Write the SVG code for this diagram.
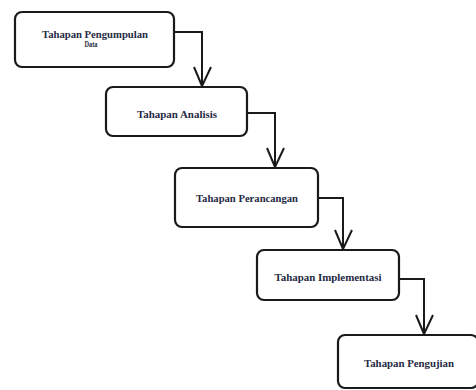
<svg xmlns="http://www.w3.org/2000/svg" width="476" height="390" viewBox="0 0 476 390">
<style>
.box{fill:#fff;stroke:#1a1a1a;stroke-width:2.2}
.t{font-family:"Liberation Serif","Times New Roman",serif;font-weight:bold;font-size:10px;fill:#1f2a44;text-anchor:middle}
.c{fill:none;stroke:#1a1a1a;stroke-width:2}
</style>
<rect width="476" height="390" fill="#fff"/>
<g id="connectors">
<path class="c" d="M174,32 H202 V86"/>
<path class="c" d="M194,67 L202,86 L211,67"/>
<path class="c" d="M247,113 H275 V167"/>
<path class="c" d="M267,148 L275,167 L284,148"/>
<path class="c" d="M318,198 H343 V249"/>
<path class="c" d="M335,230 L343,249 L352,230"/>
<path class="c" d="M399,279 H424 V334"/>
<path class="c" d="M416,315 L424,334 L433,315"/>
</g>
<g id="node1">
<rect class="box" x="15" y="12" width="159" height="55" rx="7"/>
<text class="t" x="95" y="38" textLength="106" lengthAdjust="spacingAndGlyphs">Tahapan Pengumpulan</text>
<text class="t" x="91" y="46.5" style="font-size:7.5px" textLength="13" lengthAdjust="spacingAndGlyphs">Data</text>
</g>
<g id="node2">
<rect class="box" x="106" y="87" width="141" height="49" rx="7"/>
<text class="t" x="177" y="118" textLength="80" lengthAdjust="spacingAndGlyphs">Tahapan Analisis</text>
</g>
<g id="node3">
<rect class="box" x="175" y="168" width="143" height="59" rx="7"/>
<text class="t" x="247" y="202" textLength="102" lengthAdjust="spacingAndGlyphs">Tahapan Perancangan</text>
</g>
<g id="node4">
<rect class="box" x="257" y="250" width="142" height="50" rx="7"/>
<text class="t" x="328" y="281" textLength="107" lengthAdjust="spacingAndGlyphs">Tahapan Implementasi</text>
</g>
<g id="node5">
<rect class="box" x="338" y="335" width="140" height="53" rx="7"/>
<text class="t" x="409" y="367" textLength="90" lengthAdjust="spacingAndGlyphs">Tahapan Pengujian</text>
</g>
</svg>
